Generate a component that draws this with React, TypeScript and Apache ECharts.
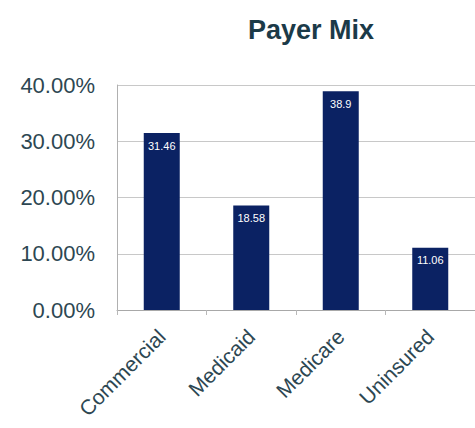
import React, { useEffect, useRef } from "react";
import * as echarts from "echarts";

const categories = ["Commercial", "Medicaid", "Medicare", "Uninsured"];
const values = [31.46, 18.58, 38.9, 11.06];
const yTicks = [0, 10, 20, 30, 40];

export default function App() {
  const ref = useRef<HTMLDivElement>(null);
  useEffect(() => {
    const chart = echarts.init(ref.current!, null, { renderer: "svg" });
    chart.setOption({
      animation: false,
      backgroundColor: "#ffffff",
      title: {
        text: "Payer Mix",
        left: 306,
        top: 11,
        textAlign: "center",
        textStyle: { fontFamily: "Liberation Sans", fontSize: 27, fontWeight: "bold", color: "#1b3a48" },
      },
      grid: { left: 117, right: -8, top: 85, bottom: 118, containLabel: false },
      xAxis: {
        type: "category",
        data: categories,
        axisLine: { lineStyle: { color: "#a8a8a8" } },
        axisTick: { show: true, lineStyle: { color: "#b8b8b8" }, length: 5 },
        axisLabel: {
          rotate: 45,
          interval: 0,
          margin: 23,
          fontFamily: "Liberation Sans",
          fontSize: 21,
          color: "#2d4752",
        },
      },
      yAxis: {
        type: "value",
        min: yTicks[0],
        max: yTicks[yTicks.length - 1],
        interval: 10,
        axisLine: { show: true, lineStyle: { color: "#b0b0b0" } },
        axisTick: { show: false },
        splitLine: { lineStyle: { color: "#c8c8c8" } },
        axisLabel: {
          formatter: (v: number) => v.toFixed(2) + "%",
          fontFamily: "Liberation Sans",
          fontSize: 22,
          color: "#2d4752",
          margin: 22,
        },
      },
      series: [
        {
          type: "bar",
          data: values,
          barWidth: 36,
          itemStyle: { color: "#0b2263" },
          label: {
            show: true,
            position: "insideTop",
            distance: 7,
            color: "#ffffff",
            fontFamily: "Liberation Sans",
            fontSize: 11,
          },
        },
      ],
    });
    return () => chart.dispose();
  }, []);
  return <div ref={ref} style={{ position: "fixed", left: 0, top: 0, width: 475, height: 428 }} />;
}
